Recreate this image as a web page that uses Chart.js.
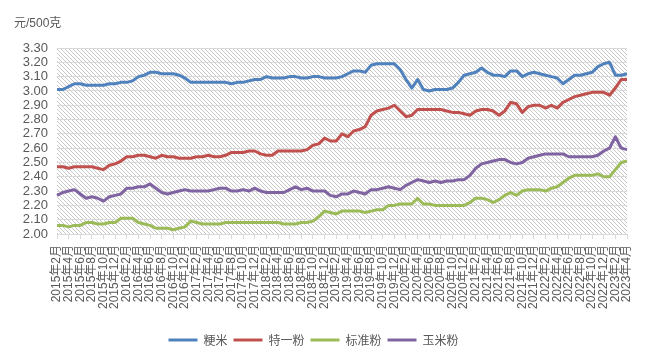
<!DOCTYPE html>
<html>
<head>
<meta charset="utf-8">
<script src="https://cdn.jsdelivr.net/npm/chart.js@4/dist/chart.umd.min.js"></script>
<style>
  html, body { margin: 0; padding: 0; background: #fff; }
  #wrap { width: 653px; height: 358px; position: relative; }
</style>
</head>
<body>
<div id="wrap"><canvas id="chartPrice"></canvas></div>
<script>
/* ── data ─────────────────────────────────────────── */
const months = [
  '2015年2月','2015年3月','2015年4月','2015年5月','2015年6月','2015年7月','2015年8月','2015年9月','2015年10月','2015年11月','2015年12月',
  '2016年1月','2016年2月','2016年3月','2016年4月','2016年5月','2016年6月','2016年7月','2016年8月','2016年9月','2016年10月','2016年11月','2016年12月',
  '2017年1月','2017年2月','2017年3月','2017年4月','2017年5月','2017年6月','2017年7月','2017年8月','2017年9月','2017年10月','2017年11月','2017年12月',
  '2018年1月','2018年2月','2018年3月','2018年4月','2018年5月','2018年6月','2018年7月','2018年8月','2018年9月','2018年10月','2018年11月','2018年12月',
  '2019年1月','2019年2月','2019年3月','2019年4月','2019年5月','2019年6月','2019年7月','2019年8月','2019年9月','2019年10月','2019年11月','2019年12月',
  '2020年1月','2020年2月','2020年3月','2020年4月','2020年5月','2020年6月','2020年7月','2020年8月','2020年9月','2020年10月','2020年11月','2020年12月',
  '2021年1月','2021年2月','2021年3月','2021年4月','2021年5月','2021年6月','2021年7月','2021年8月','2021年9月','2021年10月','2021年11月','2021年12月',
  '2022年1月','2022年2月','2022年3月','2022年4月','2022年5月','2022年6月','2022年7月','2022年8月','2022年9月','2022年10月','2022年11月','2022年12月',
  '2023年1月','2023年2月','2023年3月','2023年4月'
];

const rice = [
  3.01,3.01,3.03,3.05,3.05,3.04,3.04,3.04,3.04,3.05,
  3.05,3.06,3.06,3.07,3.10,3.11,3.13,3.13,3.12,3.12,
  3.12,3.11,3.09,3.06,3.06,3.06,3.06,3.06,3.06,3.06,
  3.05,3.06,3.06,3.07,3.08,3.08,3.10,3.09,3.09,3.09,
  3.10,3.10,3.09,3.09,3.10,3.10,3.09,3.09,3.09,3.10,
  3.12,3.14,3.14,3.13,3.18,3.19,3.19,3.19,3.19,3.15,
  3.08,3.02,3.08,3.01,3.00,3.01,3.01,3.01,3.02,3.06,
  3.11,3.12,3.13,3.16,3.13,3.11,3.11,3.10,3.14,3.14,
  3.10,3.12,3.13,3.12,3.11,3.10,3.09,3.05,3.08,3.11,
  3.11,3.12,3.13,3.17,3.19,3.20,3.11,3.11,3.12
];
const specialFlour = [
  2.47,2.47,2.46,2.47,2.47,2.47,2.47,2.46,2.45,2.48,
  2.49,2.51,2.54,2.54,2.55,2.55,2.54,2.53,2.55,2.54,
  2.54,2.53,2.53,2.53,2.54,2.54,2.55,2.54,2.54,2.55,
  2.57,2.57,2.57,2.58,2.58,2.56,2.55,2.55,2.58,2.58,
  2.58,2.58,2.58,2.59,2.62,2.63,2.67,2.65,2.65,2.70,
  2.68,2.72,2.73,2.75,2.83,2.86,2.87,2.88,2.90,2.86,
  2.82,2.83,2.87,2.87,2.87,2.87,2.87,2.86,2.85,2.85,
  2.84,2.83,2.86,2.87,2.87,2.86,2.83,2.86,2.92,2.91,
  2.85,2.89,2.90,2.90,2.88,2.90,2.88,2.92,2.94,2.96,
  2.97,2.98,2.99,2.99,2.99,2.97,3.02,3.08,3.08
];
const standardFlour = [
  2.06,2.06,2.05,2.06,2.06,2.08,2.08,2.07,2.07,2.08,
  2.08,2.11,2.11,2.11,2.08,2.07,2.06,2.04,2.04,2.04,
  2.03,2.04,2.05,2.09,2.08,2.07,2.07,2.07,2.07,2.08,
  2.08,2.08,2.08,2.08,2.08,2.08,2.08,2.08,2.08,2.07,
  2.07,2.07,2.08,2.08,2.09,2.12,2.16,2.15,2.14,2.16,
  2.16,2.16,2.16,2.15,2.16,2.17,2.17,2.20,2.20,2.21,
  2.21,2.21,2.25,2.21,2.21,2.20,2.20,2.20,2.20,2.20,
  2.20,2.22,2.25,2.25,2.24,2.22,2.24,2.27,2.29,2.27,
  2.30,2.31,2.31,2.31,2.30,2.32,2.33,2.36,2.39,2.41,
  2.41,2.41,2.41,2.42,2.40,2.40,2.45,2.50,2.51
];
const cornFlour = [
  2.27,2.29,2.30,2.31,2.28,2.25,2.26,2.25,2.23,2.26,
  2.27,2.28,2.32,2.32,2.33,2.33,2.35,2.32,2.29,2.28,
  2.29,2.30,2.31,2.30,2.30,2.30,2.30,2.31,2.32,2.32,
  2.30,2.30,2.31,2.30,2.32,2.30,2.29,2.29,2.29,2.29,
  2.31,2.33,2.31,2.32,2.30,2.30,2.30,2.27,2.26,2.28,
  2.28,2.30,2.29,2.28,2.31,2.31,2.32,2.33,2.32,2.31,
  2.34,2.36,2.38,2.37,2.36,2.37,2.36,2.37,2.37,2.38,
  2.38,2.41,2.46,2.49,2.50,2.51,2.52,2.52,2.50,2.49,
  2.50,2.53,2.54,2.55,2.56,2.56,2.56,2.56,2.54,2.54,
  2.54,2.54,2.54,2.55,2.58,2.60,2.68,2.60,2.59
];

const seriesNames = ['粳米', '特一粉', '标准粉', '玉米粉'];
const seriesColors = ['#4F81BD', '#C0504D', '#9BBB59', '#8064A2'];
const unitLabel = '元/500克';

/* ── plugins ──────────────────────────────────────── */
const textGray = '#595959';

// diagonal hatch behind the plot area
const hatchBg = {
  id: 'hatchBg',
  beforeDraw(chart) {
    const { ctx, chartArea: a } = chart;
    const tile = document.createElement('canvas');
    tile.width = 4; tile.height = 4;
    const g = tile.getContext('2d');
    g.strokeStyle = '#c8c8c8';
    g.lineWidth = 1;
    g.beginPath();
    g.moveTo(-1, -1); g.lineTo(5, 5);
    g.moveTo(-1, 3);  g.lineTo(1, 5);
    g.moveTo(3, -1);  g.lineTo(5, 1);
    g.stroke();
    ctx.save();
    ctx.fillStyle = '#fff';
    ctx.fillRect(0, 0, chart.width, chart.height);
    ctx.fillStyle = ctx.createPattern(tile, 'repeat');
    ctx.fillRect(a.left, a.top, a.right - a.left, a.bottom - a.top);
    ctx.restore();
  }
};

// unit text top-left
const unitText = {
  id: 'unitText',
  afterDraw(chart) {
    const { ctx } = chart;
    ctx.save();
    ctx.font = '12px "Liberation Sans", "Noto Sans CJK SC", sans-serif';
    ctx.fillStyle = textGray;
    ctx.textBaseline = 'middle';
    ctx.fillText(unitLabel, 14, 24);
    ctx.restore();
  }
};

/* ── chart ────────────────────────────────────────── */
const allSeries = [rice, specialFlour, standardFlour, cornFlour];

new Chart(document.getElementById('chartPrice'), {
  type: 'line',
  data: {
    labels: months,
    datasets: allSeries.map((d, i) => ({
      label: seriesNames[i],
      data: d,
      borderColor: seriesColors[i],
      backgroundColor: seriesColors[i],
      borderWidth: 3,
      pointRadius: 0,
      tension: 0,
      fill: false,
      borderJoinStyle: 'round'
    }))
  },
  options: {
    responsive: true,
    maintainAspectRatio: false,
    animation: false,
    layout: { padding: { left: 0, right: 26, top: 48, bottom: 2 } },
    plugins: {
      legend: {
        position: 'bottom',
        labels: {
          usePointStyle: true,
          pointStyle: 'line',
          pointStyleWidth: 29,
          padding: 6,
          color: textGray,
          font: { size: 12, family: '"Noto Sans CJK SC", sans-serif' }
        }
      },
      tooltip: { enabled: false }
    },
    scales: {
      x: {
        afterFit: s => { s.height = 94; },
        grid: {
          drawOnChartArea: false,
          tickLength: 5,
          color: c => (c.index % 2 === 0 ? '#d9d9d9' : 'rgba(0,0,0,0)')
        },
        border: { color: '#d9d9d9' },
        ticks: {
          autoSkip: false,
          minRotation: 90,
          maxRotation: 90,
          padding: 6,
          color: textGray,
          font: { size: 12, family: '"Liberation Sans", "Noto Sans CJK SC", sans-serif' },
          callback: (v, i) => (i % 2 === 0 ? months[i] : '')
        }
      },
      y: {
        min: 2.0,
        max: 3.3,
        afterFit: s => { s.width = 57; },
        border: { display: false },
        grid: { color: '#d9d9d9', drawTicks: false },
        ticks: {
          autoSkip: false,
          stepSize: 0.1,
          padding: 9,
          color: textGray,
          font: { size: 13, family: '"Liberation Sans", sans-serif' },
          callback: v => v.toFixed(2)
        }
      }
    }
  },
  plugins: [hatchBg, unitText]
});
</script>
</body>
</html>
